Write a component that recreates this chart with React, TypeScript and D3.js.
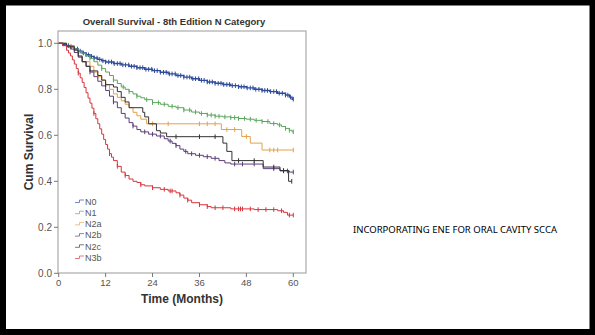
import * as d3 from "d3";

// Kaplan-Meier steps: [month, cumulative survival after the drop]
const n0Steps: [number, number][] = [
  [0, 1], [1, 0.995], [2, 0.99], [3, 0.985], [4, 0.975], [5, 0.966], [6, 0.958], [7, 0.95],
  [8, 0.943], [9, 0.936], [10, 0.93], [11, 0.924], [12, 0.919], [14, 0.912], [16, 0.906],
  [18, 0.9], [20, 0.894], [22, 0.887], [24, 0.881], [26, 0.874], [28, 0.867], [30, 0.86],
  [32, 0.853], [34, 0.846], [36, 0.839], [38, 0.832], [40, 0.826], [42, 0.821], [44, 0.816],
  [46, 0.811], [48, 0.806], [50, 0.8], [52, 0.795], [54, 0.79], [56, 0.783], [58, 0.775],
  [59, 0.766], [59.7, 0.757],
];
const n1Steps: [number, number][] = [
  [0, 1], [2, 0.99], [4, 0.975], [5, 0.965], [6, 0.955], [7, 0.945], [8, 0.935], [9, 0.92],
  [10, 0.905], [11, 0.89], [12, 0.875], [13, 0.86], [14, 0.84], [15, 0.825], [16, 0.81],
  [17, 0.8], [18, 0.79], [19, 0.78], [20, 0.77], [21, 0.763], [22, 0.755], [24, 0.742],
  [26, 0.735], [28, 0.726], [30, 0.72], [32, 0.71], [34, 0.701], [36, 0.695], [38, 0.688],
  [40, 0.683], [42, 0.68], [44, 0.677], [46, 0.673], [48, 0.67], [50, 0.665], [52, 0.66],
  [54, 0.651], [56, 0.645], [57, 0.638], [58, 0.63], [59, 0.622], [59.7, 0.615],
];
const n2aSteps: [number, number][] = [
  [0, 1], [2, 0.985], [4, 0.96], [5, 0.94], [6, 0.92], [8, 0.9], [9, 0.875], [10, 0.855],
  [11, 0.84], [12, 0.82], [13, 0.8], [14, 0.78], [15, 0.765], [16, 0.75], [17, 0.735],
  [18, 0.72], [19, 0.7], [20, 0.685], [21, 0.67], [22.5, 0.65], [41.6, 0.625],
  [46.8, 0.595], [49, 0.566], [52, 0.536],
];
const n2bSteps: [number, number][] = [
  [0, 1], [1, 0.99], [3, 0.975], [4, 0.96], [5, 0.94], [6, 0.92], [7, 0.9], [8, 0.875],
  [9, 0.855], [10, 0.835], [11, 0.815], [12, 0.795], [13, 0.77], [14, 0.745], [15, 0.72],
  [16, 0.695], [17, 0.675], [18, 0.655], [19, 0.64], [20, 0.625], [21, 0.615], [23, 0.605],
  [25, 0.597], [27, 0.585], [28, 0.575], [29, 0.565], [30, 0.555], [31, 0.54], [32, 0.53],
  [33, 0.52], [35, 0.513], [37, 0.507], [39, 0.5], [41, 0.49], [42.5, 0.48], [44, 0.475],
  [52.3, 0.455], [56.6, 0.445], [59, 0.44],
];
const n2cSteps: [number, number][] = [
  [0, 1], [2, 0.985], [4, 0.97], [5, 0.945], [6, 0.92], [7, 0.9], [8, 0.88], [10, 0.86],
  [11, 0.84], [12, 0.82], [14, 0.81], [15, 0.79], [16, 0.765], [17, 0.745], [18, 0.72],
  [21.5, 0.7], [22, 0.68], [23, 0.65], [25, 0.62], [26, 0.61], [27.6, 0.594], [42, 0.566],
  [43, 0.53], [44.3, 0.49], [52.3, 0.462], [56.6, 0.447], [58.8, 0.4],
];
const n3bSteps: [number, number][] = [
  [0, 1], [1, 0.99], [2, 0.97], [2.5, 0.958], [3, 0.945], [3.5, 0.928], [4, 0.91], [4.5, 0.89],
  [5, 0.87], [5.5, 0.85], [6, 0.83], [6.5, 0.808], [7, 0.785], [7.5, 0.762], [8, 0.74],
  [8.5, 0.718], [9, 0.695], [9.5, 0.672], [10, 0.65], [10.5, 0.628], [11, 0.605],
  [11.5, 0.582], [12, 0.56], [12.5, 0.54], [13, 0.52], [13.5, 0.505], [14, 0.49],
  [15, 0.465], [16, 0.44], [17, 0.425], [18, 0.41], [19, 0.4], [20, 0.395], [21, 0.385],
  [22, 0.38], [24, 0.372], [26, 0.365], [28, 0.358], [30, 0.35], [31, 0.34], [32, 0.327],
  [33, 0.318], [34, 0.307], [36, 0.298], [38, 0.29], [39, 0.285], [44, 0.28], [50, 0.277],
  [56, 0.272], [57.5, 0.265], [58.5, 0.253],
];

// censored cases (months)
const n0Censor = [
  2.5, 3.2, 4, 4.8, 5.5, 6.3, 7, 7.6, 8.4, 9.1, 9.8, 10.5, 11.3, 12, 12.8, 13.5, 14.2, 15,
  15.7, 16.4, 17.1, 17.9, 18.6, 19.3, 20, 20.8, 21.5, 22.3, 23, 23.8, 24.5, 25.2, 26, 26.8,
  27.5, 28.3, 29, 29.8, 30.5, 31.2, 32, 32.8, 33.5, 34.3, 35, 35.8, 36.5, 37.2, 38, 38.6,
  39.3, 40, 40.8, 41.5, 42.2, 43, 43.7, 44.4, 45.2, 46, 46.7, 47.4, 48.2, 49, 49.7, 50.4,
  51.2, 52, 52.7, 53.4, 54.2, 55, 55.7, 56.4, 57.2, 58, 58.6, 59.3, 60,
];
const n1Censor = [
  5, 8, 11, 14, 16.5, 18, 20, 22.5, 24, 25.5, 27, 29, 30.5, 32, 33.5, 35, 36.5, 38, 39, 40,
  41, 42.5, 44, 45, 46, 47.5, 49, 50.5, 52, 53.5, 55, 56.5, 58, 59, 60,
];
const n2aCensor = [3, 10, 24, 28, 36, 38, 40, 43, 45, 48, 54, 55, 56, 60];
const n2bCensor = [8, 14, 19, 22, 24, 26, 28.5, 30, 32.5, 34, 36, 38, 40, 45, 47, 50, 55, 57.5, 58.5, 60];
const n2cCensor = [12, 30, 36, 40, 46, 50, 55, 57.5, 59.6];
const n3bCensor = [
  5, 9, 13, 15, 17, 21, 24, 27, 28.5, 29, 31, 33, 36, 38, 40, 42, 45, 46, 46.5, 47, 49, 51,
  53, 55, 57, 59, 60,
];

const groups = ["N0", "N1", "N2a", "N2b", "N2c", "N3b"];
const groupColors = ["#2f4c9c", "#5aa65c", "#e2a24c", "#5b3d78", "#333333", "#d8343c"];
const groupSteps = [n0Steps, n1Steps, n2aSteps, n2bSteps, n2cSteps, n3bSteps];
const groupCensor = [n0Censor, n1Censor, n2aCensor, n2bCensor, n2cCensor, n3bCensor];

const xTicks = [0, 12, 24, 36, 48, 60];
const yTicks = [0, 0.2, 0.4, 0.6, 0.8, 1.0];

const W = 595;
const H = 335;
const plot = { left: 58, top: 31, right: 306, bottom: 273 };

function survivalAt(steps: [number, number][], t: number) {
  let s = steps[0][1];
  for (const [st, sv] of steps) {
    if (st <= t) s = sv;
  }
  return s;
}

export default function App() {
  const x = d3.scaleLinear().domain([0, 60]).range([58.7, 293.3]);
  const y = d3.scaleLinear().domain([0, 1]).range([273.3, 43.3]);
  const line = d3
    .line<[number, number]>()
    .x((d) => x(d[0]))
    .y((d) => y(d[1]))
    .curve(d3.curveStepAfter);

  const font = "Arial, 'Liberation Sans', sans-serif";

  return (
    <svg
      width={W}
      height={H}
      style={{ position: "fixed", left: 0, top: 0, background: "#fff" }}
      fontFamily={font}
    >
      <rect x={0} y={0} width={W} height={H} fill="#fff" />
      <rect x={3} y={2.5} width={589.5} height={329.5} fill="none" stroke="#000" strokeWidth={6} />

      <text x={174} y={25} textAnchor="middle" fontSize={9.5} fontWeight="bold" fill="#333">
        Overall Survival - 8th Edition N Category
      </text>

      {/* plot frame */}
      <rect
        x={plot.left}
        y={plot.top}
        width={plot.right - plot.left}
        height={plot.bottom - plot.top}
        fill="#fff"
        stroke="#999"
        strokeWidth={1}
      />

      {/* y axis */}
      {yTicks.map((v) => (
        <g key={"y" + v}>
          <line x1={plot.left - 4} x2={plot.left} y1={y(v)} y2={y(v)} stroke="#777" />
          <text x={plot.left - 6} y={y(v) + 3.5} textAnchor="end" fontSize={10} fill="#555">
            {v.toFixed(1)}
          </text>
        </g>
      ))}
      {/* x axis */}
      {xTicks.map((v) => (
        <g key={"x" + v}>
          <line x1={x(v)} x2={x(v)} y1={plot.bottom} y2={plot.bottom + 4} stroke="#777" />
          <text x={x(v)} y={plot.bottom + 13} textAnchor="middle" fontSize={9.5} fill="#555">
            {v}
          </text>
        </g>
      ))}

      <text
        transform={`translate(33,152) rotate(-90)`}
        textAnchor="middle"
        fontSize={12}
        fontWeight="bold"
        fill="#333"
      >
        Cum Survival
      </text>
      <text x={182} y={303} textAnchor="middle" fontSize={12} fontWeight="bold" fill="#333">
        Time (Months)
      </text>

      {/* curves */}
      {groups.map((g, i) => {
        const steps = groupSteps[i];
        const cens = groupCensor[i];
        const lastT = Math.max(steps[steps.length - 1][0], cens[cens.length - 1]);
        const pts: [number, number][] = [...steps, [lastT, steps[steps.length - 1][1]]];
        return (
          <g key={g}>
            <path d={line(pts) || ""} fill="none" stroke={groupColors[i]} strokeWidth={i === 0 ? 1.4 : 1} />
            {cens.map((c, j) => {
              const cy = y(survivalAt(steps, c));
              return (
                <line
                  key={j}
                  x1={x(c)}
                  x2={x(c)}
                  y1={cy - 2.3}
                  y2={cy + 2.3}
                  stroke={groupColors[i]}
                  strokeWidth={1}
                />
              );
            })}
          </g>
        );
      })}

      {/* legend */}
      {groups.map((g, i) => {
        const ly = 201.5 + i * 11.2;
        return (
          <g key={"lg" + g}>
            <path
              d={`M75,${ly + 1} H79.5 V${ly - 1.5} H84`}
              fill="none"
              stroke={groupColors[i]}
              strokeOpacity={0.65}
              strokeWidth={1}
            />
            <text x={85} y={ly + 3.2} fontSize={9} fill="#555">
              {g}
            </text>
          </g>
        );
      })}

      <text
        x={353}
        y={232.5}
        fontSize={9.5}
        fill="#000"
        textLength={204}
        lengthAdjust="spacingAndGlyphs"
        fontFamily="'Liberation Sans Narrow', 'Noto Sans', sans-serif"
      >
        INCORPORATING ENE FOR ORAL CAVITY SCCA
      </text>
    </svg>
  );
}
